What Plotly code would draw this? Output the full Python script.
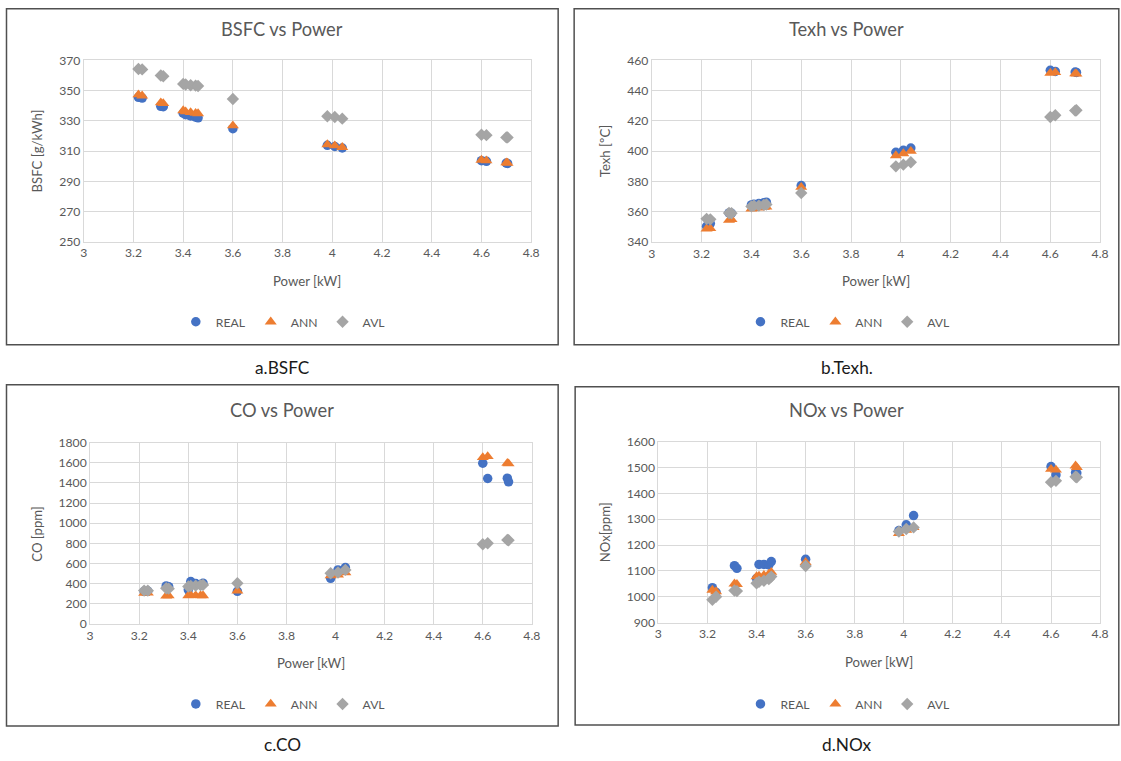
import plotly.graph_objects as go

# Figure canvas; page positions below are given in target-pixel terms and
# converted to the figure's paper fractions (small empirical capture correction).
W, H = 1130, 770
SX, AX = 0.99, 2.5
SY, AY = 0.98, 8.4

power = [3.22, 3.235, 3.31, 3.32, 3.40, 3.41, 3.43, 3.45, 3.46, 3.60, 3.98, 4.01, 4.04, 4.60, 4.62, 4.70, 4.705]

bsfc_real = [345.5, 345, 339.6, 339.3, 335, 334, 333.2, 332.5, 332, 324.8, 313.8, 313, 312, 303.6, 303.2, 302, 301.8]
bsfc_ann = [347.3, 346.5, 342, 341.5, 336.8, 336, 335.5, 335, 334.8, 326.8, 314.3, 313.5, 312.5, 304, 303.6, 302.3, 302]
bsfc_avl = [364.3, 364, 360, 359.5, 354.4, 354, 353.5, 353.3, 353, 344.4, 333, 332.5, 331.4, 320.8, 320.5, 319, 319]

texh_real = [350.4, 352.2, 359.2, 359, 364.5, 365, 365.4, 366, 366.3, 377.3, 399.3, 400.6, 402.1, 453.4, 452.7, 452.3, 452]
texh_ann = [348.7, 349, 354.4, 355, 361.9, 362.3, 362.6, 363, 363.2, 376.2, 397.1, 398.4, 400, 451.6, 452, 451.2, 451]
texh_avl = [355.3, 355, 359.2, 359, 363.5, 364, 364, 364.5, 364.8, 372.4, 390, 391.1, 392.7, 422.6, 423.7, 426.8, 427]

co_real = [324, 326, 377, 370, 338, 420, 400, 390, 404, 324, 453, 536, 559, 1595, 1443, 1446, 1410]
co_ann = [305, 308, 278, 280, 281, 285, 283, 282, 281, 328, 480, 487, 510, 1652, 1662, 1595, 1590]
co_avl = [331, 330, 354, 350, 371, 377, 380, 385, 387, 404, 503, 510, 536, 791, 801, 834, 830]

nox_real = [1035, 1017, 1120, 1110, 1071, 1125, 1125, 1123, 1136, 1145, 1256, 1278, 1314, 1503, 1471, 1480, 1478]
nox_ann = [1026, 1020, 1050, 1048, 1078, 1080, 1083, 1088, 1095, 1133, 1245, 1258, 1268, 1493, 1490, 1506, 1500]
nox_avl = [988, 1000, 1024, 1022, 1052, 1058, 1062, 1068, 1078, 1119, 1252, 1262, 1268, 1443, 1448, 1464, 1462]

series_names = ["REAL", "ANN", "AVL"]
titles = ["BSFC vs Power", "Texh vs Power", "CO vs Power", "NOx vs Power"]
ytitles = ["BSFC [g/kWh]", "Texh [ºC]", "CO [ppm]", "NOx[ppm]"]
captions = ["a.BSFC", "b.Texh.", "c.CO", "d.NOx"]
yranges = [[250, 370], [340, 460], [0, 1800], [900, 1600]]
ydticks = [20, 20, 200, 100]
x_range = [3, 4.8]

panel_data = [
    [bsfc_real, bsfc_ann, bsfc_avl],
    [texh_real, texh_ann, texh_avl],
    [co_real, co_ann, co_avl],
    [nox_real, nox_ann, nox_avl],
]

FONT = "Lato, 'Open Sans', sans-serif"
GRAY_TXT = "#595959"
GRID = "#D9D9D9"
FS = 1 / 0.985  # font size compensation

def px(t):
    return ((t - AX) / SX) / W

def py(t):
    return 1 - ((t - AY) / SY) / H

# plot area pixel boxes (x0, x1, y_top, y_bottom)
plot_px = [
    (82.3, 530.0, 60.7, 242.0),
    (650.7, 1099.3, 60.7, 242.3),
    (88.7, 530.7, 442.7, 624.0),
    (657.3, 1099.3, 441.7, 622.7),
]
box_px = [
    (5, 557, 9.2, 345),
    (573, 1118, 9.2, 345),
    (5, 557, 385, 726),
    (574, 1118, 387, 725),
]

styles = [
    dict(symbol="circle", color="#4472C4", size=9.5),
    dict(symbol="triangle-up", color="#ED7D31", size=10.5),
    dict(symbol="diamond", color="#A5A5A5", size=9.5),
]

fig = go.Figure()
layout = dict(
    width=W, height=H, margin=dict(l=0, r=0, t=0, b=0),
    paper_bgcolor="white", plot_bgcolor="white",
    font=dict(family=FONT, color=GRAY_TXT, size=12 * FS),
    showlegend=True,
)
annotations = []
shapes = []

for i in range(4):
    xa = "x" if i == 0 else f"x{i+1}"
    ya = "y" if i == 0 else f"y{i+1}"
    lg = "legend" if i == 0 else f"legend{i+1}"
    x0, x1, yt, yb = plot_px[i]
    bx0, bx1, byt, byb = box_px[i]
    cx = 281 if i % 2 == 0 else 846
    for s in range(3):
        st = styles[s]
        fig.add_trace(go.Scatter(
            x=power, y=panel_data[i][s], mode="markers", name=series_names[s],
            xaxis=xa, yaxis=ya, legend=lg,
            marker=dict(symbol=st["symbol"], color=st["color"], size=st["size"], line=dict(width=0)),
        ))
    axkey_x = "xaxis" if i == 0 else f"xaxis{i+1}"
    axkey_y = "yaxis" if i == 0 else f"yaxis{i+1}"
    layout[axkey_x] = dict(
        domain=[px(x0), px(x1)], range=x_range, dtick=0.2, tick0=3,
        anchor=ya, showgrid=True, gridcolor=GRID, gridwidth=1,
        showline=True, mirror=True, linecolor=GRID, linewidth=1,
        zeroline=False, ticks="", tickfont=dict(size=12 * FS, color=GRAY_TXT, family=FONT),
        fixedrange=True,
    )
    layout[axkey_y] = dict(
        domain=[py(yb), py(yt)], range=yranges[i], dtick=ydticks[i], tick0=yranges[i][0],
        anchor=xa, showgrid=True, gridcolor=GRID, gridwidth=1,
        showline=True, mirror=True, linecolor=GRID, linewidth=1,
        zeroline=False, ticks="", tickfont=dict(size=12 * FS, color=GRAY_TXT, family=FONT),
        fixedrange=True,
    )
    layout[lg] = dict(
        orientation="h", x=px(cx + 1), y=py(322 if i < 2 else 704),
        xanchor="center", yanchor="middle", bgcolor="rgba(0,0,0,0)",
        font=dict(size=12 * FS, color=GRAY_TXT, family=FONT), itemwidth=30,
        xref="paper", yref="paper",
    )
    shapes.append(dict(type="rect", xref="paper", yref="paper",
                       x0=px(bx0), x1=px(bx1), y0=py(byb), y1=py(byt),
                       line=dict(color="#505050", width=1.5), fillcolor="rgba(0,0,0,0)"))
    annotations.append(dict(text=titles[i], x=px(cx), y=py(29 if i < 2 else 410),
                            xref="paper", yref="paper", showarrow=False,
                            xanchor="center", yanchor="middle",
                            font=dict(size=18 * FS, color=GRAY_TXT, family=FONT)))
    annotations.append(dict(text="Power [kW]", x=px((x0 + x1) / 2), y=py(yb + 39),
                            xref="paper", yref="paper", showarrow=False,
                            xanchor="center", yanchor="middle",
                            font=dict(size=13 * FS, color=GRAY_TXT, family=FONT)))
    annotations.append(dict(text=ytitles[i], x=px(36 if i % 2 == 0 else 604), y=py((yt + yb) / 2),
                            xref="paper", yref="paper", showarrow=False, textangle=-90,
                            xanchor="center", yanchor="middle",
                            font=dict(size=13 * FS, color=GRAY_TXT, family=FONT)))
    annotations.append(dict(text=captions[i], x=px(cx), y=py(368 if i < 2 else 745),
                            xref="paper", yref="paper", showarrow=False,
                            xanchor="center", yanchor="middle",
                            font=dict(size=17 * FS, color="#1a1a1a", family=FONT)))

layout["annotations"] = annotations
layout["shapes"] = shapes
fig.update_layout(**layout)
fig.write_html("out.html")
